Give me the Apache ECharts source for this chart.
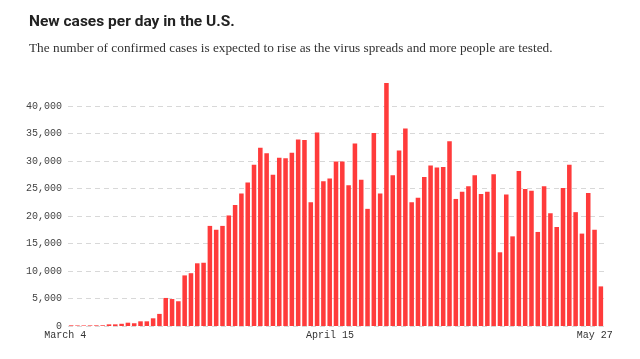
<!DOCTYPE html>
<html>
<head>
<meta charset="utf-8">
<script src="https://cdn.jsdelivr.net/npm/echarts@6/dist/echarts.min.js"></script>
<style>
html,body{margin:0;padding:0;background:#fff;}
#chart{width:640px;height:359px;}
</style>
</head>
<body>
<div id="chart"></div>
<script>
var titleText = 'New cases per day in the U.S.';
var subtitleText = 'The number of confirmed cases is expected to rise as the virus spreads and more people are tested.';

// Categories: March 4 .. May 27
var months = ['March', 'April', 'May'];
var monthStart = [4, 1, 1];
var monthEnd = [31, 30, 27];
var dates = [];
for (var m = 0; m < months.length; m++) {
  for (var d = monthStart[m]; d <= monthEnd[m]; d++) dates.push(months[m] + ' ' + d);
}
var shownDates = ['March 4', 'April 15', 'May 27'];

var newCases = [
  120, 100, 100, 110, 120, 130, 300, 300, 400, 600,
  500, 850, 850, 1400, 2200, 5100, 4900, 4500, 9200, 9600,
  11400, 11500, 18200, 17500, 18200, 20100, 22000, 24100, 26100, 29300,
  32400, 31400, 27500, 30600, 30500, 31500, 33900, 33800, 22500, 35200,
  26300, 26800, 29900, 29900, 25600, 33200, 26600, 21300, 35100, 24100,
  44200, 27400, 31900, 35900, 22500, 23300, 27100, 29200, 28800, 28900,
  33600, 23100, 24400, 25400, 27400, 24000, 24400, 27600, 13400, 23900,
  16300, 28200, 24900, 24600, 17100, 25400, 20500, 18000, 25100, 29300,
  20700, 16800, 24200, 17500, 7200
];

var chart = echarts.init(document.getElementById('chart'), null, {renderer: 'canvas'});
chart.setOption({
  animation: false,
  backgroundColor: '#fff',
  title: [
    {
      text: titleText, left: 24, top: 9,
      textStyle: {fontFamily: 'Roboto, sans-serif', fontWeight: 'bold', fontSize: 15.5, color: '#222'}
    },
    {
      text: subtitleText, left: 24, top: 37,
      textStyle: {fontFamily: '"Liberation Serif", "DejaVu Serif", serif', fontWeight: 'normal', fontSize: 13.3, color: '#333'}
    }
  ],
  grid: {left: 68, right: 36, top: 106, bottom: 33, containLabel: false},
  xAxis: {
    type: 'category',
    data: dates,
    axisLine: {show: false},
    axisTick: {show: false},
    axisLabel: {
      interval: 0,
      formatter: function (v) { return shownDates.indexOf(v) >= 0 ? v : ''; },
      fontFamily: '"Liberation Mono", "DejaVu Sans Mono", monospace',
      fontSize: 10, color: '#333', margin: 4,
      padding: [0, 12, 0, 0]
    }
  },
  yAxis: {
    type: 'value',
    min: 0, max: 40000, interval: 5000,
    axisLine: {show: false},
    axisTick: {show: false},
    axisLabel: {
      fontFamily: '"Liberation Mono", "DejaVu Sans Mono", monospace',
      fontSize: 10, color: '#444', margin: 6,
      formatter: function (v) { return v.toLocaleString('en-US'); }
    },
    splitLine: {show: true, lineStyle: {color: '#d8d8d8', type: [5, 4], width: 1}}
  },
  series: [{
    type: 'bar',
    data: newCases,
    clip: false,
    barCategoryGap: '28%',
    itemStyle: {color: '#ff3b3b'}
  }]
});
</script>
</body>
</html>
